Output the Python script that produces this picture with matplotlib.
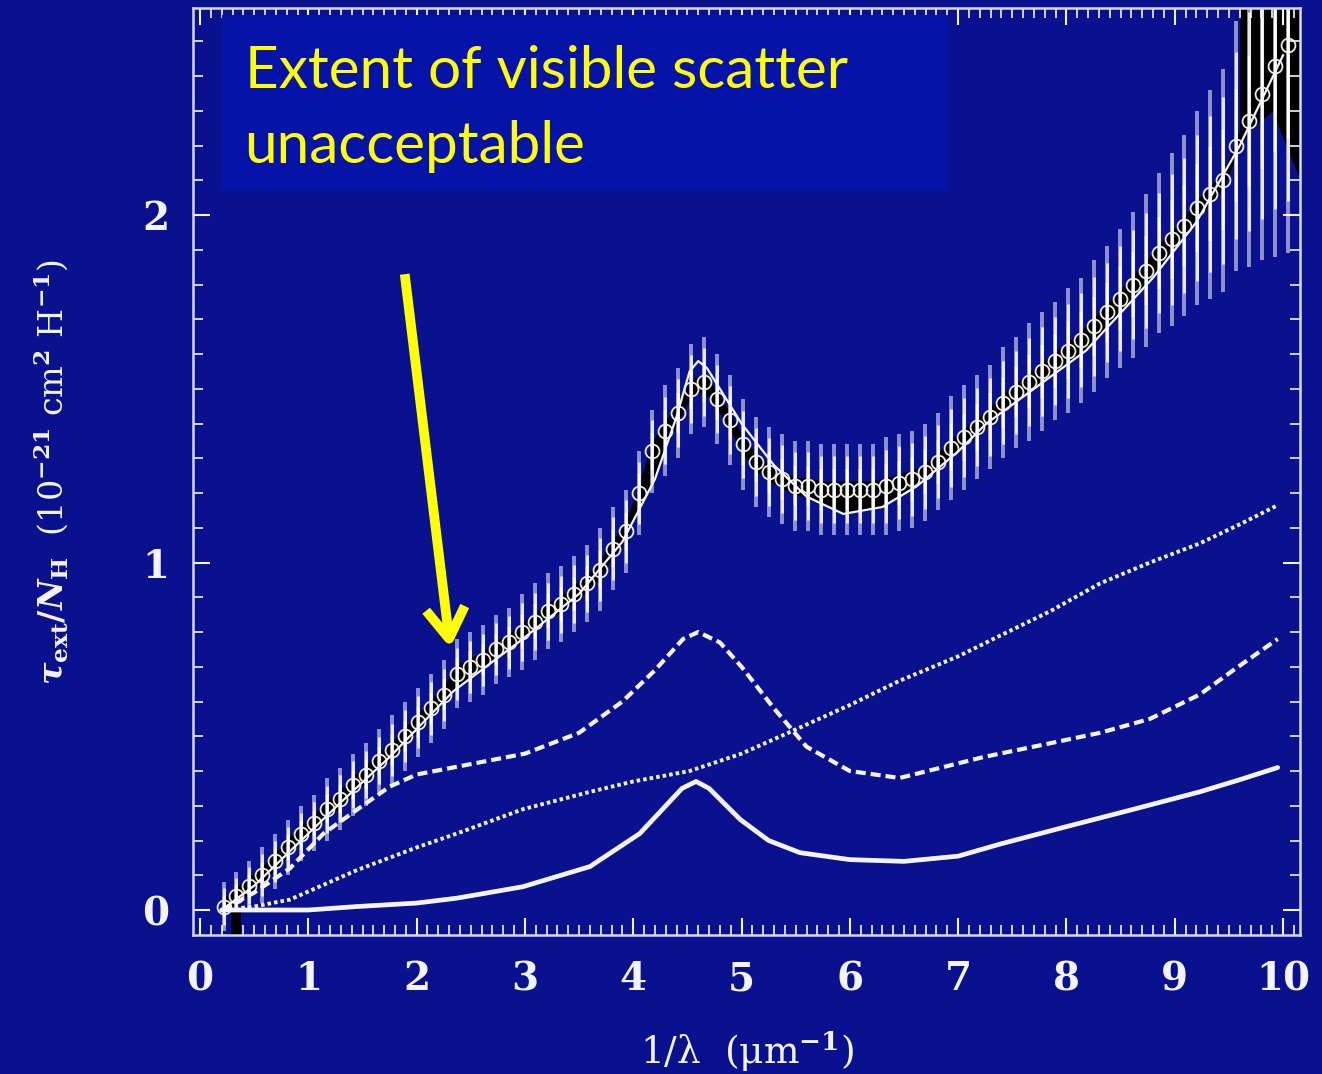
import numpy as np
import matplotlib.pyplot as plt
from matplotlib.patches import Rectangle
from matplotlib.ticker import MultipleLocator

# measured extinction per H nucleus (circles) and their scatter
obs_x = [0.22, 0.33, 0.45, 0.57, 0.69, 0.81, 0.93, 1.05, 1.17, 1.29,
         1.41, 1.53, 1.65, 1.77, 1.89, 2.01, 2.13, 2.25, 2.37, 2.49,
         2.61, 2.73, 2.85, 2.97, 3.09, 3.21, 3.33, 3.45, 3.57, 3.69,
         3.81, 3.93, 4.05, 4.17, 4.29, 4.41, 4.53, 4.65, 4.77, 4.89,
         5.01, 5.13, 5.25, 5.37, 5.49, 5.61, 5.73, 5.85, 5.97, 6.09,
         6.21, 6.33, 6.45, 6.57, 6.69, 6.81, 6.93, 7.05, 7.17, 7.29,
         7.41, 7.53, 7.65, 7.77, 7.89, 8.01, 8.13, 8.25, 8.37, 8.49,
         8.61, 8.73, 8.85, 8.97, 9.09, 9.21, 9.33, 9.45, 9.57, 9.69,
         9.81, 9.93, 10.05]
obs_y = [0.01, 0.04, 0.07, 0.10, 0.14, 0.18, 0.22, 0.25, 0.29, 0.32,
         0.36, 0.39, 0.43, 0.46, 0.50, 0.54, 0.58, 0.62, 0.68, 0.70,
         0.72, 0.75, 0.77, 0.80, 0.83, 0.86, 0.88, 0.91, 0.94, 0.98,
         1.04, 1.09, 1.20, 1.32, 1.38, 1.43, 1.50, 1.52, 1.47, 1.41,
         1.34, 1.29, 1.26, 1.24, 1.22, 1.22, 1.21, 1.21, 1.21, 1.21,
         1.21, 1.22, 1.23, 1.24, 1.26, 1.29, 1.33, 1.36, 1.39, 1.42,
         1.46, 1.49, 1.52, 1.55, 1.58, 1.61, 1.64, 1.68, 1.72, 1.76,
         1.80, 1.84, 1.89, 1.93, 1.97, 2.02, 2.06, 2.10, 2.20, 2.27,
         2.35, 2.43, 2.49]
obs_err = [0.07, 0.07, 0.07, 0.08, 0.08, 0.08, 0.08, 0.08, 0.09, 0.09,
           0.09, 0.09, 0.09, 0.10, 0.10, 0.10, 0.10, 0.10, 0.10, 0.10,
           0.10, 0.10, 0.10, 0.11, 0.11, 0.11, 0.11, 0.11, 0.11, 0.12,
           0.12, 0.12, 0.12, 0.12, 0.13, 0.13, 0.13, 0.13, 0.13, 0.13,
           0.13, 0.13, 0.13, 0.13, 0.13, 0.13, 0.13, 0.13, 0.13, 0.13,
           0.13, 0.14, 0.14, 0.14, 0.14, 0.14, 0.15, 0.15, 0.15, 0.15,
           0.16, 0.16, 0.17, 0.17, 0.17, 0.18, 0.18, 0.19, 0.19, 0.20,
           0.21, 0.22, 0.23, 0.25, 0.26, 0.28, 0.30, 0.32, 0.36, 0.42,
           0.48, 0.55, 0.60]

# total model
tot_x = [0.2, 0.5, 0.9, 1.3, 1.75, 2.34, 2.98, 3.5, 3.9, 4.2, 4.4, 4.52,
         4.6, 4.68, 4.8, 5.0, 5.3, 5.6, 5.94, 6.3, 6.62, 7.0, 7.26, 7.7,
         8.18, 8.8, 9.2, 9.6, 10.0]
tot_y = [0.0, 0.07, 0.19, 0.31, 0.44, 0.63, 0.78, 0.91, 1.06, 1.24, 1.42,
         1.55, 1.58, 1.56, 1.50, 1.40, 1.28, 1.19, 1.14, 1.16, 1.22, 1.32,
         1.40, 1.50, 1.61, 1.82, 1.98, 2.20, 2.46]

# dashed component (with the 2175 A bump)
dash_x = [0.2, 0.5, 0.83, 1.14, 1.5, 1.75, 2.0, 2.5, 3.0, 3.5, 3.9, 4.2,
          4.46, 4.6, 4.8, 5.0, 5.3, 5.6, 6.0, 6.46, 7.23, 7.85, 8.31, 8.77,
          9.23, 9.54, 9.95]
dash_y = [0.0, 0.05, 0.12, 0.22, 0.30, 0.355, 0.39, 0.42, 0.45, 0.51,
          0.60, 0.69, 0.78, 0.80, 0.77, 0.70, 0.58, 0.47, 0.40, 0.38, 0.44,
          0.48, 0.51, 0.55, 0.62, 0.69, 0.78]

# dotted component
dot_x = [0.2, 0.5, 0.83, 1.45, 2.0, 2.37, 2.98, 3.6, 4.0, 4.52, 5.0, 5.36,
         6.0, 6.46, 7.0, 7.39, 7.85, 8.31, 8.77, 9.23, 9.6, 9.95]
dot_y = [0.0, 0.01, 0.03, 0.115, 0.18, 0.22, 0.29, 0.34, 0.37, 0.40, 0.45,
         0.50, 0.59, 0.66, 0.73, 0.79, 0.86, 0.94, 1.00, 1.055, 1.11, 1.165]

# solid component
sol_x = [0.2, 1.0, 1.45, 2.0, 2.37, 2.98, 3.6, 4.06, 4.3, 4.45, 4.58, 4.7,
         4.99, 5.25, 5.54, 6.0, 6.5, 7.0, 7.39, 8.0, 8.62, 9.23, 9.6, 9.95]
sol_y = [0.0, 0.0, 0.01, 0.02, 0.034, 0.067, 0.125, 0.22, 0.30, 0.35, 0.37,
         0.35, 0.26, 0.20, 0.165, 0.145, 0.14, 0.155, 0.19, 0.24, 0.29,
         0.34, 0.375, 0.41]

plt.rcParams['font.family'] = 'DejaVu Serif'
plt.rcParams['font.weight'] = 'bold'
plt.rcParams['mathtext.fontset'] = 'custom'
plt.rcParams['mathtext.rm'] = 'DejaVu Serif:bold'
plt.rcParams['mathtext.it'] = 'DejaVu Serif:italic:bold'
plt.rcParams['mathtext.bf'] = 'DejaVu Serif:bold'

bg = '#09118f'
fg = '#f4f4ff'

fig = plt.figure(figsize=(13.22, 10.74), dpi=100, facecolor=bg)
ax = fig.add_axes([0.146, 0.1294, 0.8374, 0.8631])
ax.set_facecolor(bg)

ox = np.array(obs_x)
oy = np.array(obs_y)
oe = np.array(obs_err)

# dark band where the data points pile up (reaching down to the model curve)
low = np.minimum(oy - 0.025, np.interp(ox, tot_x, tot_y))
ax.fill_between(ox, low, oy + 0.025, color='black', lw=0, zorder=1)
ax.fill_between([9.6, 9.9, 10.16], [2.22, 2.3, 2.1], 2.7, color='black', lw=0, zorder=1)

# error bars, fading towards their ends
for frac, a, w in [(1.0, 0.55, 2.8), (0.75, 0.8, 2.2), (0.45, 1.0, 1.7)]:
    ax.vlines(ox, oy - frac * oe, oy + frac * oe, colors='white', alpha=a, lw=w, zorder=2)
ax.vlines(ox[1], -0.072, 0, colors='black', lw=7, zorder=2)

ax.plot(ox, oy, 'o', ms=10, mfc='none', mec='#eeeee0', mew=1.3, zorder=3)
ax.plot(tot_x, tot_y, color=fg, lw=1.6, zorder=4)

ax.plot(dash_x, dash_y, color=fg, lw=3, linestyle=(0, (2.4, 1.2)), zorder=3)
ax.plot(dot_x, dot_y, color=fg, lw=2.8, linestyle=(0, (0.9, 0.8)), zorder=3)
ax.plot(sol_x, sol_y, color=fg, lw=3.4, solid_capstyle='round',
        solid_joinstyle='round', zorder=3)

ax.set_xlim(-0.065, 10.157)
ax.set_ylim(-0.072, 2.596)
ax.xaxis.set_major_locator(MultipleLocator(1))
ax.xaxis.set_minor_locator(MultipleLocator(0.1))
ax.yaxis.set_major_locator(MultipleLocator(1))
ax.yaxis.set_minor_locator(MultipleLocator(0.1))
ax.tick_params(which='both', direction='in', top=True, right=True, colors=fg)
ax.tick_params(which='major', length=12, width=1.5, labelsize=28)
ax.tick_params(which='minor', length=7, width=1.2)
ax.tick_params(axis='x', which='major', pad=18)
ax.tick_params(axis='y', which='major', pad=17)
for s in ax.spines.values():
    s.set_color('#d8d8f0')
    s.set_linewidth(1.8)

ax.set_xlabel('1/λ  (μm$^{-1}$)', fontsize=27, color=fg, va='center')
ax.xaxis.set_label_coords(0.5, -0.126)
ax.set_ylabel(r'$\tau_{\rm ext}/N_{\rm H}$  (10$^{-21}$ cm$^2$ H$^{-1}$)',
              fontsize=24, color=fg, va='center')
ax.yaxis.set_label_coords(-0.129, 0.5)

# callout
fig.patches.append(Rectangle((0.168, 0.823), 0.549, 0.163, transform=fig.transFigure,
                             facecolor='#0513a8', edgecolor='none', zorder=5))
fig.text(0.185, 0.918, 'Extent of visible scatter', color='#ffff00', fontsize=42,
         family='Lato', weight='normal', va='baseline', zorder=6)
fig.text(0.185, 0.848, 'unacceptable', color='#ffff00', fontsize=42,
         family='Lato', weight='normal', va='baseline', zorder=6)
ax.annotate('', xy=(2.31, 0.755), xytext=(1.89, 1.83),
            arrowprops=dict(arrowstyle='->,head_length=1.1,head_width=0.7',
                            color='#ffff00', lw=7, mutation_scale=20,
                            shrinkA=0, shrinkB=0, capstyle='butt'),
            zorder=6)

fig.savefig('out.png', dpi=100, facecolor=bg)
